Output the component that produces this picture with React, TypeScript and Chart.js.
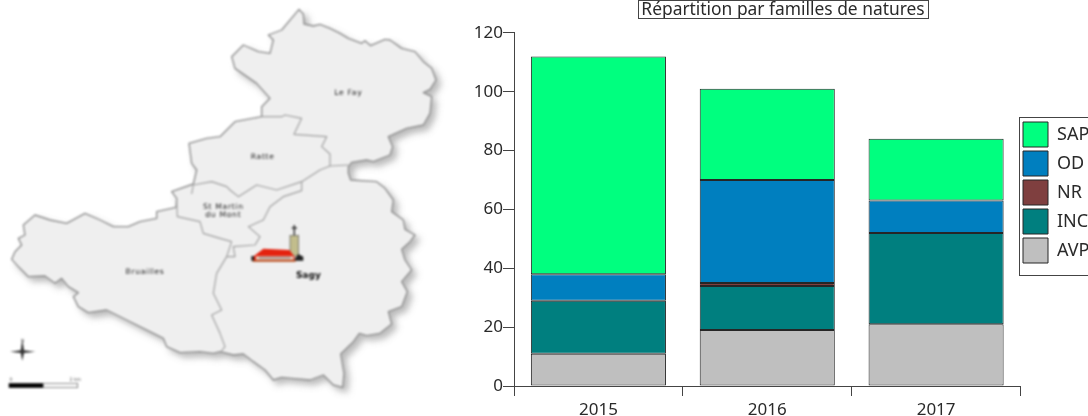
import React, { useEffect, useRef } from "react";
import { Chart, registerables } from "chart.js";

Chart.register(...registerables);

const years = ["2015", "2016", "2017"];
const avp = [11, 19, 21];
const inc = [18, 15, 31];
const nr = [0, 1, 0];
const od = [9, 35, 11];
const sap = [74, 31, 21];
const titleText = "Répartition par familles de natures";
const yTicks = [0, 20, 40, 60, 80, 100, 120];

const FONT = '"Noto Sans", sans-serif';
const EDGE = "#262626";
const TEXT = "#2a2a2a";

const outline =
  "897,28 910,42 912,72 940,78 960,73 990,85 1020,100 1045,115 1085,130 1095,122 1112,137 1155,118 1170,120 1205,145 1245,155 1270,185 1295,205 1308,240 1290,268 1270,278 1295,290 1290,340 1270,375 1220,385 1165,410 1178,440 1170,465 1120,485 1100,480 1055,487 1045,500 1045,520 1052,540 1130,545 1155,565 1180,600 1175,635 1210,660 1215,688 1245,705 1230,725 1205,748 1215,780 1235,810 1205,845 1222,875 1205,920 1165,935 1175,972 1140,1000 1100,1007 1078,1000 1060,1025 1022,1062 1032,1120 1028,1162 1000,1155 970,1125 930,1140 875,1135 845,1132 820,1140 795,1110 760,1085 730,1062 700,1065 660,1055 640,1060 600,1055 540,1058 500,1040 490,1015 430,985 380,960 320,930 265,938 235,920 220,890 235,878 205,860 185,835 165,850 135,828 85,830 60,805 35,778 45,755 65,735 55,715 75,705 70,675 105,645 150,660 200,670 255,640 300,660 340,680 385,680 420,665 470,655 470,635 528,622 530,595 515,575 580,552 590,510 575,490 567,430 620,415 660,410 705,365 785,350 785,320 810,295 770,250 705,205 695,170 730,135 775,155 810,160 820,120 805,105 845,90";
const borders = [
  "785,350 845,350 855,345 905,355 882,403 980,410 965,440 990,462 990,498 1045,495",
  "575,582 580,555 635,545 680,560 690,570 715,590 770,555 830,570 905,545 960,510 990,498",
  "905,545 905,572 850,590 810,620 790,660 745,680 780,710 765,735 700,740 705,770 680,770 695,725",
  "530,595 532,650 600,665 610,700 660,715 695,725",
  "680,770 650,820 640,880 665,930 635,945 660,1000 675,1040 662,1056",
];
const places = [
  { t: "Le Fay", x: 1045, y: 285 },
  { t: "Ratte", x: 788, y: 476 },
  { t: "St Martin", x: 670, y: 627 },
  { t: "du Mont", x: 670, y: 652 },
  { t: "Bruailles", x: 435, y: 823 },
];

function MapPanel() {
  return (
    <svg
      width={460}
      height={416}
      viewBox="0 0 1380 1248"
      style={{ position: "absolute", left: 0, top: 0, filter: "blur(0.9px)" }}
    >
      <defs>
        <filter id="sh" x="-5%" y="-5%" width="115%" height="115%">
          <feDropShadow dx="14" dy="14" stdDeviation="9" floodColor="#777" floodOpacity="0.5" />
        </filter>
      </defs>
      <polygon points={outline} fill="#efefef" stroke="#8e8e8e" strokeWidth="4" strokeLinejoin="round" filter="url(#sh)" />
      {borders.map((b, i) => (
        <polyline key={i} points={b} fill="none" stroke="#a0a0a0" strokeWidth="3.5" strokeLinejoin="round" />
      ))}
      {places.map((p) => (
        <text key={p.t} x={p.x} y={p.y} textAnchor="middle" fontFamily='"DejaVu Sans"' fontSize="23" letterSpacing="2" fill="#222">
          {p.t}
        </text>
      ))}
      <text x={925} y={834} textAnchor="middle" fontFamily='"DejaVu Sans"' fontWeight="bold" fontSize="27" fill="#111">
        Sagy
      </text>
      {/* church */}
      <line x1={883} y1={675} x2={883} y2={708} stroke="#222" strokeWidth="4" />
      <line x1={875} y1={684} x2={891} y2={684} stroke="#222" strokeWidth="4" />
      <rect x={870} y={706} width={26} height={62} fill="#c2bd8c" stroke="#555" strokeWidth="2" />
      <polygon points="895,762 910,770 910,782 880,782" fill="#222" />
      <polygon points="762,768 790,746 868,750 885,772 880,782 760,782" fill="#e4220f" />
      <rect x={768} y={769} width={112} height={10} fill="#e8e0d0" />
      <rect x={776} y={771} width={96} height={4} fill="#888" />
      <rect x={757} y={780} width={130} height={5} fill="#b5420f" />
      <rect x={754} y={768} width={8} height={14} fill="#222" />
      {/* compass */}
      <polygon points="30,1055 62,1051 67,1018 72,1051 106,1055 72,1059 67,1082 62,1059" fill="#333" />
      <text x={68} y={1027} textAnchor="middle" fontFamily='"DejaVu Sans"' fontSize="13" fill="#555">
        N
      </text>
      {/* scale bar */}
      <rect x={27} y={1150} width={206} height={13} fill="#fff" stroke="#555" strokeWidth="2" />
      <rect x={27} y={1150} width={103} height={13} fill="#000" />
      <text x={33} y={1143} textAnchor="middle" fontFamily='"DejaVu Sans"' fontSize="14" fill="#555">
        0
      </text>
      <text x={226} y={1143} textAnchor="middle" fontFamily='"DejaVu Sans"' fontSize="14" fill="#555">
        2 km
      </text>
    </svg>
  );
}

const framePlugin = {
  id: "frames",
  afterLayout(chart: any) {
    const t = chart.titleBlock;
    t.left = 638;
    t.right = 928;
    t.top = 0;
    const l = chart.legend;
    l.top = 118;
    l.bottom = 275;
    l.left = 1019;
    l.right = 1160;
  },
  afterDraw(chart: any) {
    const c = chart.ctx;
    c.save();
    c.strokeStyle = "#444";
    c.lineWidth = 1;
    c.strokeRect(638.5, 0.5, 290, 18);
    c.strokeRect(1019.5, 117.5, 120, 158);
    c.restore();
  },
};

export default function App() {
  const ref = useRef<HTMLCanvasElement | null>(null);
  useEffect(() => {
    document.body.style.margin = "0";
    const mk = (label: string, data: number[], color: string) => ({
      label,
      data,
      backgroundColor: color,
      borderColor: EDGE,
      borderWidth: 1,
      borderSkipped: false as const,
      barPercentage: 0.8,
      categoryPercentage: 1,
    });
    const chart = new Chart(ref.current!, {
      type: "bar",
      data: {
        labels: years,
        datasets: [
          mk("AVP", avp, "#bfbfbf"),
          mk("INC", inc, "#007f7f"),
          mk("NR", nr, "#7f3f3f"),
          mk("OD", od, "#007fbf"),
          mk("SAP", sap, "#00ff7f"),
        ],
      },
      plugins: [framePlugin],
      options: {
        responsive: false,
        animation: false,
        layout: { padding: { left: 470, top: 0, right: 0, bottom: 0 } },
        plugins: {
          tooltip: { enabled: false },
          title: {
            display: true,
            text: titleText,
            color: TEXT,
            font: { family: FONT, size: 17.4, weight: "normal" },
            padding: { top: 0, bottom: 12 },
          },
          legend: {
            position: "right",
            align: "start",
            reverse: true,
            labels: {
              boxWidth: 25,
              boxHeight: 25,
              padding: 4,
              color: TEXT,
              font: { family: FONT, size: 18 },
            },
          },
        },
        scales: {
          x: {
            stacked: true,
            afterFit: (s: any) => {
              s.height = 30;
            },
            border: { color: "#444", width: 1 },
            grid: { drawOnChartArea: false, color: "#444", tickLength: 10 },
            ticks: { color: TEXT, font: { family: FONT, size: 17 }, padding: 4 },
          },
          y: {
            stacked: true,
            min: 0,
            max: 120,
            afterFit: (s: any) => {
              s.width = 44;
            },
            afterBuildTicks: (s: any) => {
              s.ticks = yTicks.map((value) => ({ value }));
            },
            border: { color: "#444", width: 1 },
            grid: { drawOnChartArea: false, color: "#444", tickLength: 11 },
            ticks: { color: TEXT, font: { family: FONT, size: 17 }, padding: 0 },
          },
        },
      },
    } as any);
    return () => chart.destroy();
  }, []);
  return (
    <div style={{ position: "fixed", left: 0, top: 0, width: 1088, height: 416, overflow: "hidden", background: "#fff" }}>
      <MapPanel />
      <canvas
        ref={ref}
        width={1101}
        height={416}
        style={{ position: "absolute", left: 0, top: 0, filter: "blur(0.5px)" }}
      />
    </div>
  );
}
